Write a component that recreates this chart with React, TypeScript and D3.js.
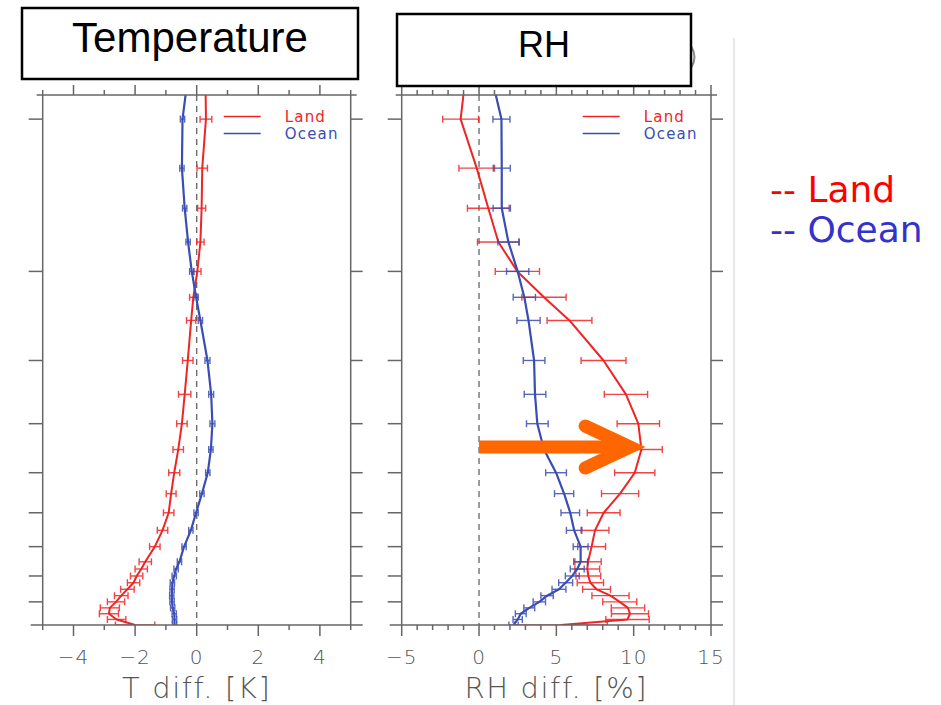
import React from "react";
import * as d3 from "d3";

// Pressure levels (hPa), bottom to top
const LEVELS = [1000, 975, 950, 925, 900, 875, 850, 825, 800, 775, 750, 700, 650, 600, 550, 500, 450, 400, 350, 300, 250, 225, 200, 175, 150, 125, 100, 70];

// Temperature difference [K]
const T_LAND = [-2.0, -2.6, -2.85, -2.82, -2.62, -2.45, -2.25, -2.05, -1.95, -1.8, -1.67, -1.36, -1.11, -0.91, -0.83, -0.73, -0.6, -0.48, -0.39, -0.29, -0.18, -0.11, 0.02, 0.12, 0.16, 0.18, 0.3, 0.27];
const T_LAND_ERR = [0.64, 0.3, 0.31, 0.31, 0.28, 0.22, 0.22, 0.2, 0.2, 0.2, 0.2, 0.17, 0.17, 0.17, 0.16, 0.18, 0.17, 0.17, 0.2, 0.17, 0.15, 0.12, 0.12, 0.12, 0.13, 0.17, 0.19, 0];
const T_OCEAN = [-0.72, -0.72, -0.73, -0.78, -0.8, -0.81, -0.8, -0.79, -0.73, -0.67, -0.56, -0.41, -0.19, -0.02, 0.17, 0.36, 0.46, 0.51, 0.47, 0.35, 0.12, -0.02, -0.16, -0.28, -0.39, -0.48, -0.46, -0.14];
const T_OCEAN_ERR = [0.07, 0.07, 0.07, 0.07, 0.07, 0.07, 0.07, 0.07, 0.07, 0.07, 0.07, 0.07, 0.07, 0.07, 0.07, 0.07, 0.07, 0.08, 0.08, 0.08, 0.07, 0.07, 0.07, 0.07, 0.07, 0.07, 0.07, 0];

// Relative humidity difference [%]
const RH_LAND = [5.3, 9.6, 9.76, 9.63, 9.1, 8.5, 7.6, 7.2, 7.07, 7.0, 7.05, 7.28, 7.5, 8.06, 9.12, 10.07, 10.5, 10.3, 9.5, 8.05, 5.85, 4.2, 2.48, 1.25, 0.6, -0.15, -1.19, -0.6];
const RH_LAND_ERR = [3.0, 1.4, 1.2, 1.08, 1.1, 1.2, 0.9, 0.85, 0.8, 0.8, 0.85, 0.9, 0.9, 1.06, 1.2, 1.3, 1.35, 1.37, 1.4, 1.45, 1.45, 1.43, 1.43, 1.35, 1.35, 1.15, 1.16, 0];
const RH_OCEAN = [2.23, 2.5, 2.7, 3.25, 3.9, 4.4, 5.17, 5.6, 6.03, 6.35, 6.57, 6.57, 6.15, 5.9, 5.5, 4.98, 4.2, 3.77, 3.62, 3.56, 3.2, 2.93, 2.5, 1.9, 1.47, 1.47, 1.45, 0.26];
const RH_OCEAN_ERR = [0.3, 0.3, 0.35, 0.35, 0.4, 0.4, 0.45, 0.45, 0.45, 0.45, 0.45, 0.48, 0.5, 0.6, 0.62, 0.67, 0.68, 0.7, 0.7, 0.7, 0.75, 0.72, 0.72, 0.68, 0.56, 0.55, 0.55, 0];

const Y_TICKS = [100, 200, 300, 400, 500, 600, 700, 800, 900];
const T_TICKS = [-4, -2, 0, 2, 4];
const RH_TICKS = [-5, 0, 5, 10, 15];
const SERIES_NAMES = ["Land", "Ocean"];
const ARROW_TIP_RH = 9.9;

const W = 941;
const H = 705;
const TOP = 95;
const BOTTOM = 625;
const RED = "#f02424";
const BLUE = "#3a4db2";
const AXIS = "#666";
const TEXT = "#555";

const yScale = d3.scaleLog().domain([1000, 89.6]).range([BOTTOM, TOP]);

type PanelProps = {
  id: string;
  x0: number;
  x1: number;
  domain: [number, number];
  ticks: number[];
  minorStep: number;
  label: string;
  land: number[];
  landErr: number[];
  ocean: number[];
  oceanErr: number[];
  capW: number;
};

function Panel(p: PanelProps) {
  const x = d3.scaleLinear().domain(p.domain).range([p.x0, p.x1]);
  const minor = d3.range(p.domain[0], p.domain[1] + 0.001, p.minorStep).filter((v) => !p.ticks.includes(v));
  const line = d3
    .line<number>()
    .x((d) => x(d))
    .y((_, i) => yScale(LEVELS[i]))
    .curve(d3.curveLinear);
  const series = [
    { v: p.land, e: p.landErr, c: RED, w: 2 },
    { v: p.ocean, e: p.oceanErr, c: BLUE, w: 2.2 },
  ];
  const legX = p.x0 + 181;
  return (
    <g>
      <defs>
        <clipPath id={`clip-${p.id}`}>
          <rect x={p.x0} y={TOP} width={p.x1 - p.x0} height={BOTTOM - TOP} />
        </clipPath>
      </defs>
      {/* zero line */}
      <line x1={x(0)} x2={x(0)} y1={TOP} y2={BOTTOM} stroke="#666" strokeWidth={1.3} strokeDasharray="6,5" />
      {/* data */}
      <g clipPath={`url(#clip-${p.id})`}>
        {series.map((s, si) => (
          <g key={si}>
            <path d={line(s.v) || ""} fill="none" stroke={s.c} strokeWidth={s.w} strokeLinejoin="round" />
            {s.v.map((v, i) =>
              s.e[i] > 0 ? (
                <g key={i} stroke={s.c} strokeWidth={1.4} opacity={0.85}>
                  <line x1={x(v - s.e[i])} x2={x(v + s.e[i])} y1={yScale(LEVELS[i])} y2={yScale(LEVELS[i])} />
                  <line x1={x(v - s.e[i])} x2={x(v - s.e[i])} y1={yScale(LEVELS[i]) - p.capW} y2={yScale(LEVELS[i]) + p.capW} />
                  <line x1={x(v + s.e[i])} x2={x(v + s.e[i])} y1={yScale(LEVELS[i]) - p.capW} y2={yScale(LEVELS[i]) + p.capW} />
                </g>
              ) : null
            )}
          </g>
        ))}
      </g>
      {/* frame */}
      <g stroke={AXIS} strokeWidth={1.5} fill="none">
        <line x1={p.x0 - 6} x2={p.x1 + 6} y1={TOP} y2={TOP} />
        <line x1={p.x0 - 12} x2={p.x1 + 12} y1={BOTTOM} y2={BOTTOM} />
        <line x1={p.x0} x2={p.x0} y1={TOP} y2={BOTTOM} />
        <line x1={p.x1} x2={p.x1} y1={TOP} y2={BOTTOM} />
        {p.ticks.map((t) => (
          <g key={`M${t}`}>
            <line x1={x(t)} x2={x(t)} y1={BOTTOM} y2={BOTTOM + 11} />
            <line x1={x(t)} x2={x(t)} y1={TOP} y2={TOP - 10} />
          </g>
        ))}
        {minor.map((t) => (
          <g key={`m${t}`}>
            <line x1={x(t)} x2={x(t)} y1={BOTTOM} y2={BOTTOM + 5} />
            <line x1={x(t)} x2={x(t)} y1={TOP} y2={TOP - 5} />
          </g>
        ))}
        {Y_TICKS.map((t) => (
          <g key={`y${t}`}>
            <line x1={p.x0 - 14} x2={p.x0} y1={yScale(t)} y2={yScale(t)} />
            <line x1={p.x1} x2={p.x1 + 12} y1={yScale(t)} y2={yScale(t)} />
          </g>
        ))}
      </g>
      {/* tick labels */}
      <g fontFamily="DejaVu Sans" fontSize={20} fontWeight={300} fill={TEXT} textAnchor="middle" letterSpacing={1}>
        {p.ticks.map((t) => (
          <text key={t} x={x(t)} y={664}>
            {t < 0 ? `\u2212${Math.abs(t)}` : `${t}`}
          </text>
        ))}
      </g>
      <text x={(p.x0 + p.x1) / 2} y={698} fontFamily="DejaVu Sans" fontSize={29} fontWeight={300} fill={TEXT} textAnchor="middle" letterSpacing={1.6}>
        {p.label}
      </text>
      {/* inner legend */}
      <g fontFamily="DejaVu Sans" fontSize={15} letterSpacing={1.2}>
        <line x1={legX} x2={legX + 37} y1={116.5} y2={116.5} stroke={RED} strokeWidth={1.6} />
        <text x={legX + 61} y={122} fill={RED}>{SERIES_NAMES[0]}</text>
        <line x1={legX} x2={legX + 37} y1={133.5} y2={133.5} stroke={BLUE} strokeWidth={1.6} />
        <text x={legX + 61} y={139} fill={BLUE}>{SERIES_NAMES[1]}</text>
      </g>
    </g>
  );
}

export default function App() {
  const rhX = d3.scaleLinear().domain([-5, 15]).range([401.7, 711]);
  const arrowY = 447;
  const arrowTip = rhX(ARROW_TIP_RH);
  return (
    <svg width={W} height={H} style={{ position: "absolute", left: 0, top: 0, background: "#fff" }}>
      <rect width={W} height={H} fill="#fff" />
      <Panel id="t" x0={42.7} x1={350.7} domain={[-5, 5]} ticks={T_TICKS} minorStep={1} label="T diff. [K]" land={T_LAND} landErr={T_LAND_ERR} ocean={T_OCEAN} oceanErr={T_OCEAN_ERR} capW={3.5} />
      <Panel id="rh" x0={401.7} x1={711} domain={[-5, 15]} ticks={RH_TICKS} minorStep={1} label="RH diff. [%]" land={RH_LAND} landErr={RH_LAND_ERR} ocean={RH_OCEAN} oceanErr={RH_OCEAN_ERR} capW={3.5} />

      {/* title boxes */}
      <rect x={22} y={8} width={336} height={71} fill="#fff" stroke="#000" strokeWidth={2.5} />
      <text x={190} y={52} fontFamily="Liberation Sans" fontSize={42} textAnchor="middle" fill="#000">Temperature</text>
      <path d="M 691 46 Q 698 57 691 68" fill="none" stroke="#888" strokeWidth={2} />
      <rect x={397} y={14} width={294} height={72} fill="#fff" stroke="#000" strokeWidth={2.5} />
      <text x={544} y={57} fontFamily="Liberation Sans" fontSize={36} textAnchor="middle" fill="#000">RH</text>

      {/* orange arrow */}
      <g stroke="#ff6600" strokeWidth={13} fill="none">
        <line x1={rhX(0)} x2={arrowTip - 10} y1={arrowY} y2={arrowY} />
        <polyline points={`${arrowTip - 47},${arrowY - 21} ${arrowTip - 2},${arrowY} ${arrowTip - 47},${arrowY + 21}`} strokeLinecap="round" strokeLinejoin="miter" />
      </g>

      {/* separator */}
      <line x1={734} x2={734} y1={38} y2={705} stroke="#d0d0d0" strokeWidth={1} />

      {/* side legend */}
      <g fontFamily="DejaVu Sans" fontSize={36}>
        <text x={770} y={202} fill="#ff0000">-- {SERIES_NAMES[0]}</text>
        <text x={770} y={242} fill="#3333cc">-- {SERIES_NAMES[1]}</text>
      </g>
    </svg>
  );
}
